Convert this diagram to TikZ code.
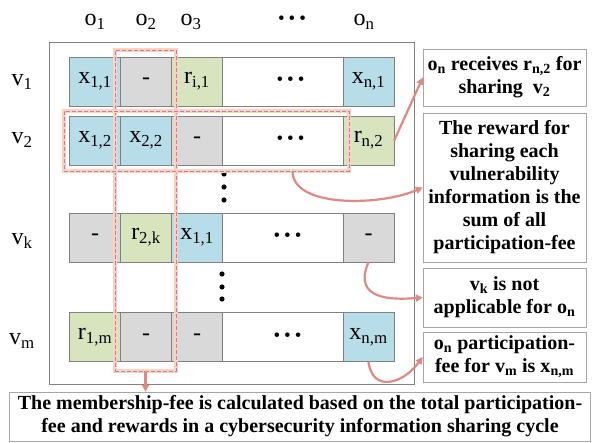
\documentclass[tikz,border=0pt]{standalone}
\usepackage{fontspec}
\setmainfont{Liberation Serif}
\usetikzlibrary{arrows.meta}
\definecolor{cblue}{RGB}{183,221,232}
\definecolor{cgray}{RGB}{217,217,217}
\definecolor{cgreen}{RGB}{215,228,189}
\definecolor{peach}{RGB}{250,212,185}
\definecolor{hlline}{RGB}{196,120,196}
\definecolor{arrcol}{RGB}{222,138,130}
\newcommand{\dotrow}{\textbullet\hspace{4pt}\textbullet\hspace{4pt}\textbullet}

\begin{document}
\begin{tikzpicture}[
  x=1pt, y=-1pt,
  cell/.style={draw=gray, minimum width=51pt, minimum height=49pt, inner sep=0pt,
    font=\fontsize{24}{26}\selectfont},
  wide/.style={cell, minimum width=121pt, font=\fontsize{19}{21}\selectfont},
  lbl/.style={inner sep=0pt, font=\fontsize{24}{26}\selectfont},
  note/.style={draw=gray!70, minimum width=163pt, inner sep=0pt, align=center,
    font=\fontsize{20}{23}\selectfont\bfseries},
  hl/.style={draw=hlline, dashed, dash pattern=on 4pt off 2pt, line width=0.7pt,
    preaction={draw=peach, line width=4pt, solid}, inner sep=0pt},
  link/.style={draw=arrcol, line width=2.2pt, -{Triangle[length=7pt,width=7pt]}},
]
\useasboundingbox (0,0) rectangle (592,443);

\draw [gray] (49,42) rectangle (414,384);

\node [lbl] (o1) at (95,22) {o\textsubscript{1}};
\node [lbl] (o2) at (146,22) {o\textsubscript{2}};
\node [lbl] (o3) at (191,22) {o\textsubscript{3}};
\node [lbl, font=\fontsize{19}{21}\selectfont] (od) at (292,20) {\dotrow};
\node [lbl] (on) at (364,22) {o\textsubscript{n}};

\node [lbl] (v1) at (22,82) {v\textsubscript{1}};
\node [lbl] (v2) at (22,140) {v\textsubscript{2}};
\node [lbl] (vk) at (22,241) {v\textsubscript{k}};
\node [lbl] (vm) at (22,341) {v\textsubscript{m}};

\node [cell, fill=cblue] (c11) at (95,81.5) {x\textsubscript{1,1}};
\node [cell, fill=cgray] (c21) at (146,81.5) {-};
\node [cell, fill=cgreen] (c31) at (197,81.5) {r\textsubscript{i,1}};
\node [wide] (cd1) at (282.5,81.5) {\hspace{16pt}\dotrow};
\node [cell, fill=cblue] (cn1) at (368.5,81.5) {x\textsubscript{n,1}};

\node [cell, fill=cblue] (c12) at (95,140.5) {x\textsubscript{1,2}};
\node [cell, fill=cblue] (c22) at (146,140.5) {x\textsubscript{2,2}};
\node [cell, fill=cgray] (c32) at (197,140.5) {-};
\node [wide] (cd2) at (282.5,140.5) {\hspace{16pt}\dotrow};
\node [cell, fill=cgreen] (cn2) at (368.5,140.5) {r\textsubscript{n,2}};

\node [cell, fill=cgray] (c1k) at (95,237.5) {-};
\node [cell, fill=cgreen] (c2k) at (146,237.5) {r\textsubscript{2,k}};
\node [cell, fill=cblue] (c3k) at (197,237.5) {x\textsubscript{1,1}};
\node [wide] (cdk) at (282.5,237.5) {\hspace{10pt}\dotrow};
\node [cell, fill=cgray] (cnk) at (368.5,237.5) {-};

\node [cell, fill=cgreen] (c1m) at (95,337) {r\textsubscript{1,m}};
\node [cell, fill=cgray] (c2m) at (146,337) {-};
\node [cell, fill=cgray] (c3m) at (197,337) {-};
\node [wide] (cdm) at (282.5,337) {\hspace{10pt}\dotrow};
\node [cell, fill=cblue] (cnm) at (368.5,337) {x\textsubscript{n,m}};

\foreach \y in {174,187,200} \fill (224,\y) circle [radius=2.6];
\foreach \y in {274,287,299} \fill (222,\y) circle [radius=2.6];

\node [hl, minimum width=61pt, minimum height=321pt] (hcol) at (145.5,210.5) {};
\node [hl, minimum width=285pt, minimum height=60pt] (hrow) at (206.5,141) {};

\node [note, minimum height=57pt] (n1) at (504.5,77.5)
  {o\textsubscript{n} receives r\textsubscript{n,2} for\\sharing\ \ v\textsubscript{2}};
\node [note, minimum height=149pt] (n2) at (504.5,187.5)
  {The reward for\\sharing each\\vulnerability\\information is the\\sum of all\\participation-fee};
\node [note, minimum height=59pt] (n3) at (504.5,297.5)
  {v\textsubscript{k} is not\\applicable for o\textsubscript{n}};
\node [note, minimum height=50pt] (n4) at (504.5,357)
  {o\textsubscript{n} participation-\\fee for v\textsubscript{m} is x\textsubscript{n,m}};
\node [note, minimum width=581pt, minimum height=49pt] (nb) at (300,416.5)
  {The membership-fee is calculated based on the total participation-\\fee and rewards in a cybersecurity information sharing cycle};

\draw [link] (cn2.east) -- (n1.west);
\draw [link] ([xshift=86pt]hrow.south) .. controls (293,208) and (380,206) .. (n2.west);
\draw [link] (cnk.south) .. controls (352,300) and (392,300) .. (n3.west);
\draw [link] (cnm.south) .. controls (372,392) and (402,385) .. (n4.west);
\draw [link] (hcol.south) -- (hcol.south |- nb.north);

\end{tikzpicture}
\end{document}
